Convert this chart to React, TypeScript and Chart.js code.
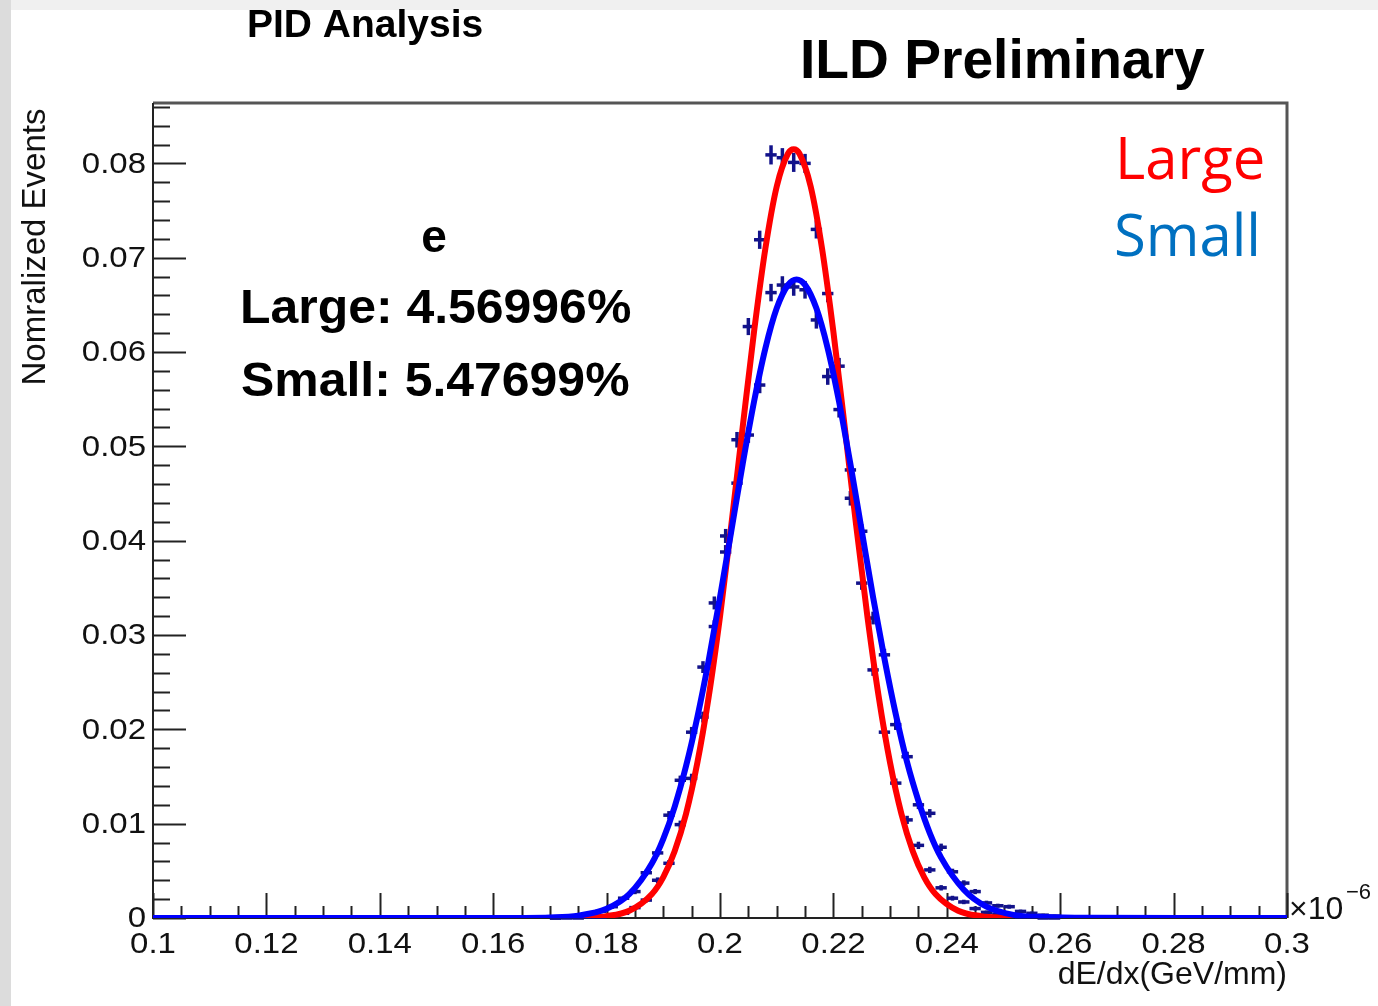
import React, { useEffect, useRef } from "react";
import { Chart, registerables } from "chart.js";

Chart.register(...registerables);

// ---- axis ticks ----
const xTickValues = [0.1, 0.12, 0.14, 0.16, 0.18, 0.2, 0.22, 0.24, 0.26, 0.28, 0.3];
const xTickLabels = ["0.1", "0.12", "0.14", "0.16", "0.18", "0.2", "0.22", "0.24", "0.26", "0.28", "0.3"];
const yTickValues = [0, 0.01, 0.02, 0.03, 0.04, 0.05, 0.06, 0.07, 0.08];
const yTickLabels = ["0", "0.01", "0.02", "0.03", "0.04", "0.05", "0.06", "0.07", "0.08"];

// ---- histogram bins (centres), bin half width ----
const binHalfWidth = 0.001;
const histX = [
  0.171, 0.173, 0.175, 0.177, 0.179, 0.181, 0.183, 0.185, 0.187, 0.189,
  0.191, 0.193, 0.195, 0.197, 0.199, 0.201, 0.203, 0.205, 0.207, 0.209,
  0.211, 0.213, 0.215, 0.217, 0.219, 0.221, 0.223, 0.225, 0.227, 0.229,
  0.231, 0.233, 0.235, 0.237, 0.239, 0.241, 0.243, 0.245, 0.247, 0.249,
  0.251, 0.253, 0.255, 0.257, 0.259,
];
const largeHist = [
  0.0, 0.0, 0.0, 0.0001, 0.0001, 0.0002, 0.0005, 0.0011, 0.0019, 0.004,
  0.0058, 0.0099, 0.0148, 0.0213, 0.0309, 0.0405, 0.0507, 0.0627, 0.0719, 0.0809,
  0.0806, 0.0801, 0.08, 0.073, 0.0662, 0.0585, 0.0445, 0.0355, 0.0263, 0.0197,
  0.0143, 0.0104, 0.0077, 0.0051, 0.0032, 0.0021, 0.0017, 0.001, 0.0006, 0.0004,
  0.0002, 0.0001, 0.0001, 0.0, 0.0,
];
const largeErr = [
  0, 0, 0, 0.00003, 0.00003, 0.00005, 0.00007, 0.0001, 0.00014, 0.0002,
  0.00024, 0.00032, 0.00039, 0.00047, 0.00056, 0.00064, 0.00072, 0.0008, 0.00086, 0.00091,
  0.00091, 0.0009, 0.0009, 0.00086, 0.00082, 0.00077, 0.00067, 0.0006, 0.00052, 0.00045,
  0.00038, 0.00033, 0.00028, 0.00023, 0.00018, 0.00015, 0.00013, 0.0001, 0.00008, 0.00006,
  0.00005, 0.00003, 0.00003, 0, 0,
];
const smallHist = [
  0.0, 0.0001, 0.0002, 0.0004, 0.0007, 0.0012, 0.0021, 0.0028, 0.0048, 0.0069,
  0.0109, 0.0146, 0.0197, 0.0266, 0.0334, 0.0388, 0.0461, 0.0512, 0.0565, 0.0663,
  0.0671, 0.0669, 0.0666, 0.0634, 0.0574, 0.0539, 0.0475, 0.041, 0.0318, 0.0279,
  0.0205, 0.0171, 0.012, 0.0111, 0.0075, 0.0049, 0.0037, 0.0028, 0.0016, 0.0013,
  0.0012, 0.0007, 0.0005, 0.0003, 0.0002,
];
const smallErr = [
  0, 0.00003, 0.00005, 0.00006, 0.00008, 0.00011, 0.00015, 0.00017, 0.00022, 0.00027,
  0.00033, 0.00039, 0.00045, 0.00052, 0.00058, 0.00063, 0.00069, 0.00072, 0.00076, 0.00082,
  0.00083, 0.00083, 0.00083, 0.00081, 0.00077, 0.00074, 0.0007, 0.00065, 0.00057, 0.00053,
  0.00046, 0.00042, 0.00035, 0.00034, 0.00028, 0.00022, 0.00019, 0.00017, 0.00013, 0.00011,
  0.00011, 0.00008, 0.00007, 0.00005, 0.00004,
];

// ---- fitted curves ----
const largeFitX = [
  0.168, 0.172, 0.176, 0.18, 0.184, 0.188, 0.19, 0.192, 0.194, 0.196,
  0.198, 0.2, 0.202, 0.204, 0.206, 0.208, 0.21, 0.212, 0.213, 0.214,
  0.216, 0.218, 0.22, 0.222, 0.224, 0.226, 0.228, 0.23, 0.232, 0.234,
  0.236, 0.238, 0.242, 0.246, 0.25, 0.254, 0.258,
];
const largeFitY = [
  0.0, 0.00001, 0.00004, 0.0002, 0.00077, 0.00255, 0.00434, 0.00708, 0.01103, 0.01644,
  0.02343, 0.03196, 0.04169, 0.05203, 0.06213, 0.07096, 0.07754, 0.08105, 0.0815, 0.08105,
  0.07754, 0.07096, 0.06213, 0.05203, 0.04169, 0.03196, 0.02343, 0.01644, 0.01103, 0.00708,
  0.00434, 0.00255, 0.00077, 0.0002, 0.00004, 0.00001, 0.0,
];
const smallFitX = [
  0.1, 0.15, 0.165, 0.17, 0.175, 0.18, 0.184, 0.188, 0.19, 0.192,
  0.194, 0.196, 0.198, 0.2, 0.202, 0.204, 0.206, 0.208, 0.21, 0.212,
  0.2135, 0.215, 0.217, 0.219, 0.221, 0.223, 0.225, 0.227, 0.229, 0.231,
  0.233, 0.235, 0.237, 0.239, 0.243, 0.247, 0.252, 0.257, 0.265, 0.3,
];
const smallFitY = [
  0.0, 0.0, 0.00001, 0.00005, 0.00025, 0.00097, 0.00252, 0.0058, 0.00839, 0.01179,
  0.01608, 0.02127, 0.0273, 0.034, 0.04106, 0.04813, 0.05473, 0.06038, 0.06463, 0.06712,
  0.0677, 0.06712, 0.06463, 0.06038, 0.05473, 0.04813, 0.04106, 0.034, 0.0275, 0.0216,
  0.0165, 0.0124, 0.009, 0.0064, 0.003, 0.0012, 0.0003, 0.0001, 0.00002, 0.0,
];

const ROOT_FONT = "'Liberation Sans', Arial, Helvetica, sans-serif";

function drawText(
  ctx: CanvasRenderingContext2D,
  text: string,
  x: number,
  y: number,
  font: string,
  align: CanvasTextAlign,
  baseline: CanvasTextBaseline,
  color: string,
  sx = 1
) {
  ctx.save();
  ctx.translate(x, y);
  ctx.scale(sx, 1);
  ctx.font = font;
  ctx.textAlign = align;
  ctx.textBaseline = baseline;
  ctx.fillStyle = color;
  ctx.fillText(text, 0, 0);
  ctx.restore();
}

const backgroundPlugin = {
  id: "bg",
  beforeDraw(chart: any) {
    const ctx = chart.ctx as CanvasRenderingContext2D;
    ctx.save();
    ctx.fillStyle = "#ffffff";
    ctx.fillRect(0, 0, chart.width, chart.height);
    ctx.fillStyle = "#f0f0f0";
    ctx.fillRect(0, 0, chart.width, 10);
    ctx.fillStyle = "#dcdcdc";
    ctx.fillRect(0, 0, 11, chart.height);
    ctx.restore();
  },
};

const axesPlugin = {
  id: "rootAxes",
  beforeDatasetsDraw(chart: any) {
    const ctx = chart.ctx as CanvasRenderingContext2D;
    const xs = chart.scales.x;
    const ys = chart.scales.y;
    const { left, right, top, bottom } = chart.chartArea;
    ctx.save();
    // frame
    ctx.strokeStyle = "#555555";
    ctx.lineWidth = 3;
    ctx.beginPath();
    ctx.moveTo(left, top);
    ctx.lineTo(right, top);
    ctx.lineTo(right, bottom);
    ctx.stroke();
    ctx.strokeStyle = "#222222";
    ctx.lineWidth = 2;
    ctx.beginPath();
    ctx.moveTo(left, top);
    ctx.lineTo(left, bottom);
    ctx.lineTo(right, bottom);
    ctx.stroke();
    // y ticks
    ctx.lineWidth = 2;
    for (let v = 0; v <= ys.max + 1e-9; v += 0.002) {
      const py = Math.round(ys.getPixelForValue(v)) + 0.5;
      const major = Math.abs(v / 0.01 - Math.round(v / 0.01)) < 1e-6;
      ctx.beginPath();
      ctx.moveTo(left, py);
      ctx.lineTo(left + (major ? 33 : 17), py);
      ctx.stroke();
    }
    // x ticks
    for (let v = xs.min; v <= xs.max + 1e-9; v += 0.005) {
      const px = Math.round(xs.getPixelForValue(v)) + 0.5;
      const major = Math.abs((v - 0.1) / 0.02 - Math.round((v - 0.1) / 0.02)) < 1e-6;
      ctx.beginPath();
      ctx.moveTo(px, bottom);
      ctx.lineTo(px, bottom - (major ? 25 : 12));
      ctx.stroke();
    }
    ctx.restore();
  },
  afterDraw(chart: any) {
    const ctx = chart.ctx as CanvasRenderingContext2D;
    const xs = chart.scales.x;
    const ys = chart.scales.y;
    const { right } = chart.chartArea;
    const tickFont = `30px ${ROOT_FONT}`;
    yTickValues.forEach((v, i) => {
      drawText(ctx, yTickLabels[i], 146, ys.getPixelForValue(v) + 1, tickFont, "right", "middle", "#111", 1.1);
    });
    xTickValues.forEach((v, i) => {
      drawText(ctx, xTickLabels[i], xs.getPixelForValue(v), 953, tickFont, "center", "alphabetic", "#111", 1.1);
    });
    // axis titles
    ctx.save();
    ctx.translate(45, 247);
    ctx.rotate(-Math.PI / 2);
    ctx.font = `33px ${ROOT_FONT}`;
    ctx.textAlign = "center";
    ctx.textBaseline = "alphabetic";
    ctx.fillStyle = "#111";
    ctx.fillText("Nomralized Events", 0, 0);
    ctx.restore();
    drawText(ctx, "dE/dx(GeV/mm)", right, 984, `32px ${ROOT_FONT}`, "right", "alphabetic", "#111");
    drawText(ctx, "×10", right + 2, 919, `32px ${ROOT_FONT}`, "left", "alphabetic", "#111");
    drawText(ctx, "−6", right + 59, 899, `22px ${ROOT_FONT}`, "left", "alphabetic", "#111");
    // titles & annotations
    drawText(ctx, "PID Analysis", 247, 37, `bold 39px ${ROOT_FONT}`, "left", "alphabetic", "#000");
    drawText(ctx, "ILD Preliminary", 800, 78, `bold 56px ${ROOT_FONT}`, "left", "alphabetic", "#000", 0.985);
    drawText(ctx, "e", 434, 252, `bold 46px ${ROOT_FONT}`, "center", "alphabetic", "#000");
    drawText(ctx, "Large: 4.56996%", 240, 323, `bold 48px ${ROOT_FONT}`, "left", "alphabetic", "#000", 1.04);
    drawText(ctx, "Small: 5.47699%", 241, 396, `bold 48px ${ROOT_FONT}`, "left", "alphabetic", "#000", 1.04);
    drawText(ctx, "Large", 1115, 179, `58px 'Open Sans', 'Noto Sans', sans-serif`, "left", "alphabetic", "#ff0000");
    drawText(ctx, "Small", 1114, 256, `58px 'Open Sans', 'Noto Sans', sans-serif`, "left", "alphabetic", "#0070c0");
  },
};

const errorBarPlugin = {
  id: "errorBars",
  beforeDatasetsDraw(chart: any) {
    const ctx = chart.ctx as CanvasRenderingContext2D;
    const xs = chart.scales.x;
    const ys = chart.scales.y;
    ctx.save();
    ctx.strokeStyle = "#12128a";
    ctx.lineWidth = 3.5;
    ctx.lineCap = "butt";
    chart.data.datasets.forEach((ds: any) => {
      if (!ds.errors) return;
      ds.data.forEach((p: any, i: number) => {
        const e = ds.errors[i];
        const py = ys.getPixelForValue(p.y);
        ctx.beginPath();
        ctx.moveTo(xs.getPixelForValue(p.x - binHalfWidth), py);
        ctx.lineTo(xs.getPixelForValue(p.x + binHalfWidth), py);
        ctx.stroke();
        if (e > 0) {
          const px = xs.getPixelForValue(p.x);
          ctx.beginPath();
          ctx.moveTo(px, ys.getPixelForValue(p.y - e) + 1);
          ctx.lineTo(px, ys.getPixelForValue(p.y + e) - 1);
          ctx.stroke();
        }
      });
    });
    ctx.restore();
  },
};

export default function App() {
  const ref = useRef<HTMLCanvasElement>(null);
  useEffect(() => {
    document.body.style.margin = "0";
    const canvas = ref.current!;
    const chart = new Chart(canvas, {
      type: "line",
      data: {
        datasets: [
          {
            label: "Small fit",
            data: smallFitX.map((x, i) => ({ x, y: smallFitY[i] })),
            borderColor: "#0000ff",
            borderWidth: 6,
            pointRadius: 0,
            cubicInterpolationMode: "monotone",
            fill: false,
          },
          {
            label: "Large fit",
            data: largeFitX.map((x, i) => ({ x, y: largeFitY[i] })),
            borderColor: "#ff0000",
            borderWidth: 6,
            pointRadius: 0,
            cubicInterpolationMode: "monotone",
            fill: false,
          },
          {
            label: "Small",
            data: histX.map((x, i) => ({ x, y: smallHist[i] })),
            errors: smallErr,
            showLine: false,
            pointRadius: 0,
            borderColor: "#12128a",
          } as any,
          {
            label: "Large",
            data: histX.map((x, i) => ({ x, y: largeHist[i] })),
            errors: largeErr,
            showLine: false,
            pointRadius: 0,
            borderColor: "#12128a",
          } as any,
        ],
      },
      options: {
        responsive: false,
        animation: false,
        events: [],
        layout: { padding: { left: 153, top: 103, right: 91, bottom: 88 } },
        scales: {
          x: { type: "linear", min: 0.1, max: 0.3, display: false },
          y: { type: "linear", min: 0, max: 0.0864, display: false },
        },
        plugins: {
          legend: { display: false },
          tooltip: { enabled: false },
        },
      },
      plugins: [backgroundPlugin, axesPlugin, errorBarPlugin],
    });
    return () => chart.destroy();
  }, []);
  return (
    <div style={{ width: 1378, height: 1006 }}>
      <canvas ref={ref} width={1378} height={1006} style={{ display: "block" }} />
    </div>
  );
}
